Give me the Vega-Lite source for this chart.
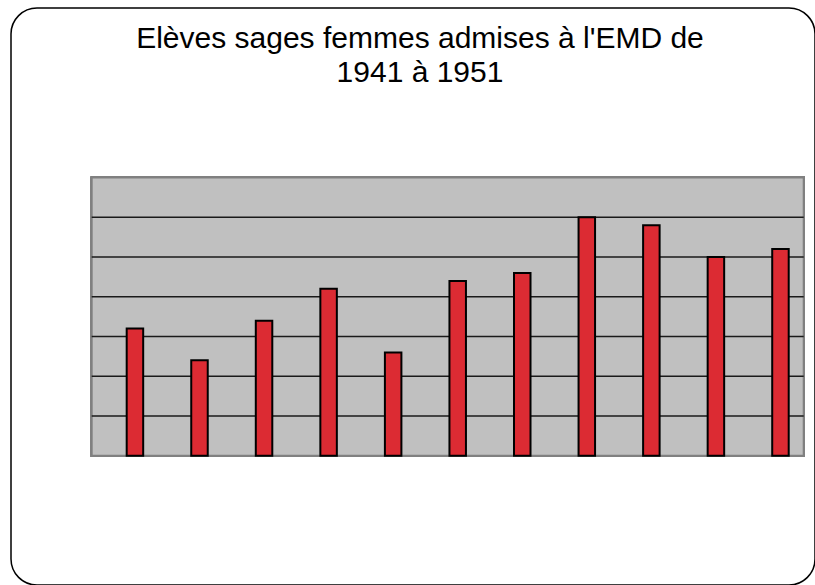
{
  "$schema": "https://vega.github.io/schema/vega-lite/v6.json",
  "width": 804,
  "height": 577,
  "autosize": {"type": "none"},
  "padding": {"left": 11, "top": 8, "right": 0, "bottom": 0},
  "background": "white",
  "config": {
    "view": {"stroke": "#000000", "strokeWidth": 1.5, "cornerRadius": 26, "fill": "white"}
  },
  "title": {
    "text": ["Elèves sages femmes admises à l'EMD de", "1941 à 1951"],
    "font": "Liberation Sans",
    "fontSize": 30,
    "fontWeight": "normal",
    "color": "#000000",
    "lineHeight": 34,
    "anchor": "middle",
    "frame": "group",
    "dx": 7,
    "dy": 84
  },
  "datasets": {
    "bars": [
      {"year": 1941, "value": 3.2},
      {"year": 1942, "value": 2.4},
      {"year": 1943, "value": 3.4},
      {"year": 1944, "value": 4.2},
      {"year": 1945, "value": 2.6},
      {"year": 1946, "value": 4.4},
      {"year": 1947, "value": 4.6},
      {"year": 1948, "value": 6.0},
      {"year": 1949, "value": 5.8},
      {"year": 1950, "value": 5.0},
      {"year": 1951, "value": 5.2}
    ],
    "grid": [
      {"level": 1}, {"level": 2}, {"level": 3}, {"level": 4}, {"level": 5}, {"level": 6}
    ]
  },
  "layer": [
    {
      "data": {"name": "bars"},
      "mark": {"type": "rect", "fill": "#C0C0C0", "stroke": "#808080", "strokeWidth": 2},
      "encoding": {
        "x": {"datum": 1940.33, "type": "quantitative", "scale": {"domain": [1939.08, 1951.535], "zero": false, "nice": false, "padding": 0}, "axis": null},
        "x2": {"datum": 1951.36},
        "y": {"datum": 0, "type": "quantitative", "scale": {"domain": [-3.254, 11.269], "zero": false, "nice": false, "padding": 0}, "axis": null},
        "y2": {"datum": 7}
      }
    },
    {
      "data": {"name": "grid"},
      "mark": {"type": "rule", "color": "#1a1a1a", "strokeWidth": 1.5},
      "encoding": {
        "y": {"field": "level", "type": "quantitative"},
        "x": {"datum": 1940.33, "type": "quantitative"},
        "x2": {"datum": 1951.36}
      }
    },
    {
      "data": {"name": "bars"},
      "mark": {"type": "bar", "width": 16.5, "fill": "#DC2B33", "stroke": "#000000", "strokeWidth": 2},
      "encoding": {
        "x": {"field": "year", "type": "quantitative"},
        "y": {"field": "value", "type": "quantitative"}
      }
    }
  ]
}
